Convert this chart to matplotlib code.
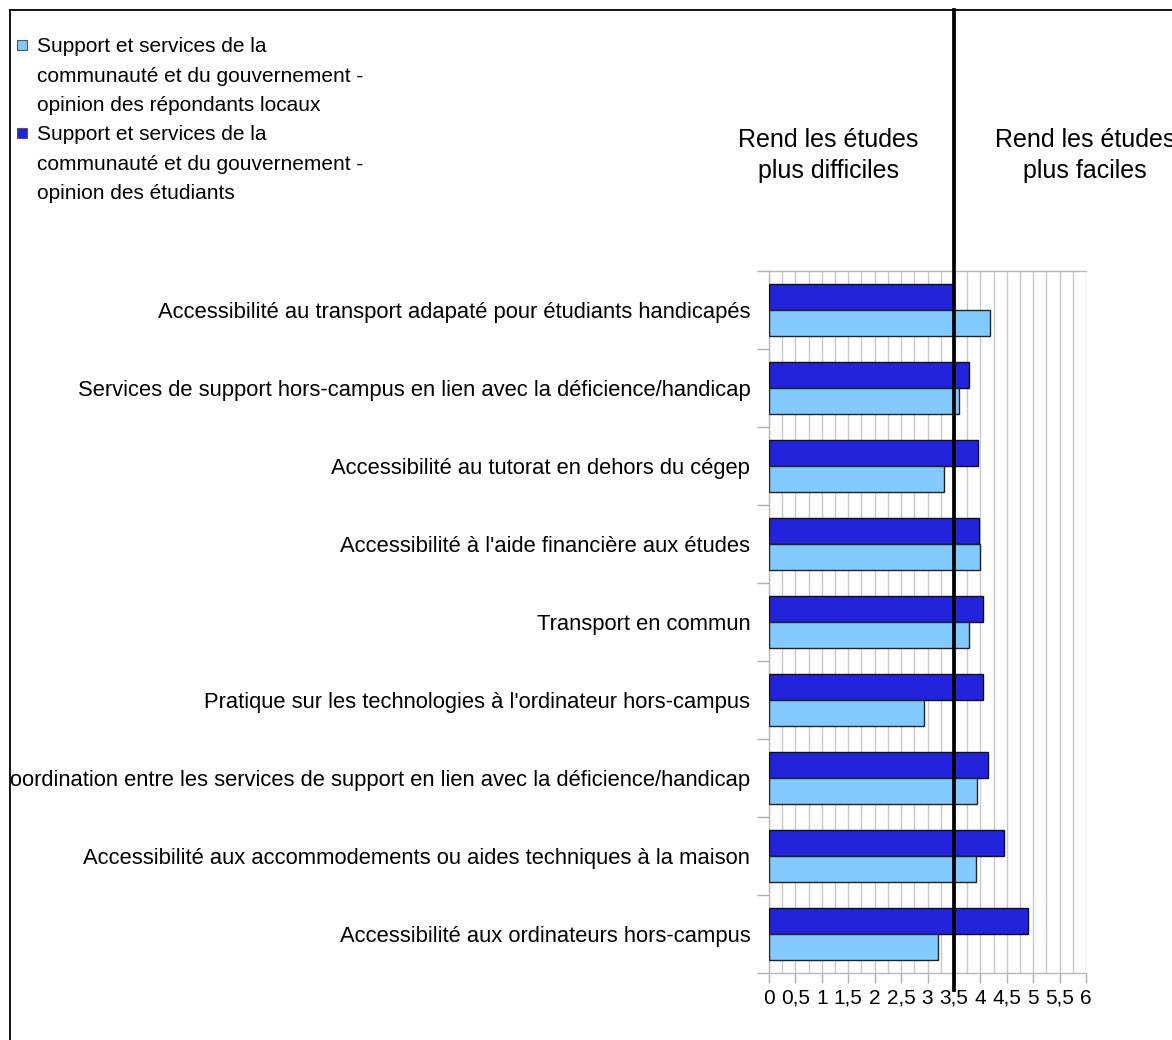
import matplotlib
matplotlib.use("Agg")
import matplotlib.pyplot as plt
from matplotlib.lines import Line2D
from matplotlib.patches import Rectangle
from matplotlib.ticker import MultipleLocator, FixedLocator
import matplotlib.transforms as mtransforms
import numpy as np

plt.rcParams['font.family'] = ['Liberation Sans', 'DejaVu Sans']

categories = [
    "Accessibilité au transport adapaté pour étudiants handicapés",
    "Services de support hors-campus en lien avec la déficience/handicap",
    "Accessibilité au tutorat en dehors du cégep",
    "Accessibilité à l'aide financière aux études",
    "Transport en commun",
    "Pratique sur les technologies à l'ordinateur hors-campus",
    "Coordination entre les services de support en lien avec la déficience/handicap",
    "Accessibilité aux accommodements ou aides techniques à la maison",
    "Accessibilité aux ordinateurs hors-campus",
]
students = [3.48, 3.78, 3.96, 3.98, 4.05, 4.05, 4.14, 4.44, 4.90]
locals_ = [4.19, 3.59, 3.32, 4.00, 3.79, 2.94, 3.94, 3.91, 3.19]
series_labels = [
    "Support et services de la\ncommunauté et du gouvernement -\nopinion des répondants locaux",
    "Support et services de la\ncommunauté et du gouvernement -\nopinion des étudiants",
]
x_ticks = [0, 0.5, 1, 1.5, 2, 2.5, 3, 3.5, 4, 4.5, 5, 5.5, 6]
x_ticklabels = ["0", "0,5", "1", "1,5", "2", "2,5", "3", "3,5", "4", "4,5", "5", "5,5", "6"]
threshold = 3.5
side_labels = ["Rend les études\nplus difficiles", "Rend les études\nplus faciles"]

W, H = 1172, 1040
fig = plt.figure(figsize=(W / 100, H / 100), dpi=100)
fig.patch.set_facecolor("white")

def fx(px):
    return px / W

def fy(py):
    return 1 - py / H

ax = fig.add_axes([fx(769), fy(973), fx(1086) - fx(769), fy(271) - fy(973)])

light = "#82C9FF"
dark = "#2323DB"
y = np.arange(len(categories))
h = 1 / 3
ax.barh(y - h / 2, students, height=h, color=dark, edgecolor="#111111", linewidth=1.0, zorder=3)
ax.barh(y + h / 2, locals_, height=h, color=light, edgecolor="#222222", linewidth=1.0, zorder=3)

ax.set_xlim(0, 6)
ax.set_ylim(len(categories) - 0.5, -0.5)

# x axis
ax.xaxis.set_major_locator(FixedLocator(x_ticks))
ax.set_xticklabels(x_ticklabels, fontsize=15)
ax.xaxis.set_minor_locator(MultipleLocator(0.25))
ax.tick_params(axis="x", which="major", length=7.5, width=1, color="#b0b0b0", pad=4)
ax.tick_params(axis="x", which="minor", length=0)
ax.grid(True, axis="x", which="both", color="#c8c8c8", linewidth=1.0, zorder=0)

# y axis
ax.set_yticks(y)
ax.set_yticklabels(categories, fontsize=15.8)
ax.yaxis.set_minor_locator(FixedLocator(np.arange(-0.5, len(categories), 1.0)))
ax.tick_params(axis="y", which="major", length=0, pad=13.5)
ax.tick_params(axis="y", which="minor", length=9, width=1, color="#b0b0b0")

for s in ax.spines.values():
    s.set_color("#b8b8b8")
    s.set_linewidth(1.0)
ax.spines["right"].set_visible(False)

# threshold line
trans = mtransforms.blended_transform_factory(ax.transData, ax.transAxes)
y_bot = (fy(990) - fy(973)) / (fy(271) - fy(973))
y_top = (fy(10) - fy(973)) / (fy(271) - fy(973))
ax.add_line(Line2D([threshold, threshold], [y_bot, y_top], transform=trans,
                   color="black", linewidth=2.7, clip_on=False, zorder=6))

# side labels
for label, xc in zip(side_labels, [828, 1085]):
    for i, line in enumerate(label.split("\n")):
        fig.text(fx(xc), fy(140 + 31 * i), line, fontsize=18, ha="center", va="center")

# legend (manual)
leg_colors = [light, dark]
leg_tops = [47, 135]
for lab, col, y0 in zip(series_labels, leg_colors, leg_tops):
    lines = lab.split("\n")
    for i, line in enumerate(lines):
        fig.text(fx(37), fy(y0 + 29.3 * i), line, fontsize=15, ha="left", va="center")
    fig.add_artist(Rectangle((fx(17), fy(y0 + 3)), fx(10), 10 / H,
                             transform=fig.transFigure, facecolor=col, edgecolor="#555555",
                             linewidth=0.8, zorder=5))

# frame with clip at left
fig.add_artist(Rectangle((0, 0), fx(10), 1, transform=fig.transFigure,
                         facecolor="white", edgecolor="none", zorder=8))
fig.add_artist(Line2D([fx(10), fx(10)], [0, fy(10)], transform=fig.transFigure,
                      color="black", linewidth=1.3, zorder=9))
fig.add_artist(Line2D([fx(10), 1], [fy(10), fy(10)], transform=fig.transFigure,
                      color="black", linewidth=1.3, zorder=9))

fig.savefig("out.png", dpi=100)
